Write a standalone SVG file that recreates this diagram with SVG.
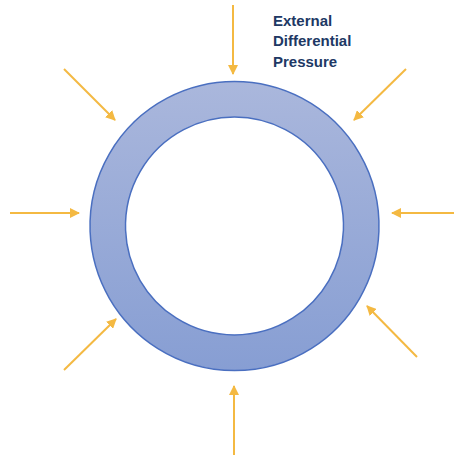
<svg xmlns="http://www.w3.org/2000/svg" width="454" height="456" viewBox="0 0 454 456">
  <defs>
    <linearGradient id="ringFill" x1="0" y1="0" x2="0" y2="1">
      <stop offset="0" stop-color="#aab7dc"/>
      <stop offset="1" stop-color="#879ed3"/>
    </linearGradient>
    <marker id="head" viewBox="0 0 10 10" refX="9" refY="5" markerWidth="5" markerHeight="5" markerUnits="strokeWidth" orient="auto">
      <path d="M0,0 L10,5 L0,10 Z" fill="#f4b942"/>
    </marker>
    <style>
      .arrow { stroke: #f4b942; stroke-width: 2; fill: none; marker-end: url(#head); }
      .label { font-family: "Liberation Sans", Arial, sans-serif; font-weight: bold; font-size: 15px; fill: #203864; }
    </style>
  </defs>
  <rect width="454" height="456" fill="#ffffff"/>

  <!-- pipe cross-section: ring between outer and inner circles -->
  <g id="pipe">
    <path d="M234.5,81.5 a144.5,144.5 0 1,0 0.01,0 Z M234.5,117 a109,109 0 1,1 -0.01,0 Z"
          fill="url(#ringFill)" fill-rule="evenodd" stroke="#4a6fc0" stroke-width="1.5"/>
  </g>

  <!-- pressure arrows pointing at the pipe wall -->
  <g id="connectors">
    <line class="arrow" x1="233" y1="5" x2="233" y2="74"/>
    <line class="arrow" x1="406" y1="69" x2="354" y2="120"/>
    <line class="arrow" x1="454" y1="213" x2="392" y2="213"/>
    <line class="arrow" x1="417" y1="357" x2="367" y2="306"/>
    <line class="arrow" x1="234" y1="455" x2="234" y2="386"/>
    <line class="arrow" x1="64" y1="370" x2="116" y2="319"/>
    <line class="arrow" x1="10" y1="213" x2="79" y2="213"/>
    <line class="arrow" x1="64" y1="69" x2="115" y2="120"/>
  </g>

  <g id="label">
    <text class="label" x="273" y="26">External</text>
    <text class="label" x="273" y="46">Differential</text>
    <text class="label" x="273" y="67">Pressure</text>
  </g>
</svg>
